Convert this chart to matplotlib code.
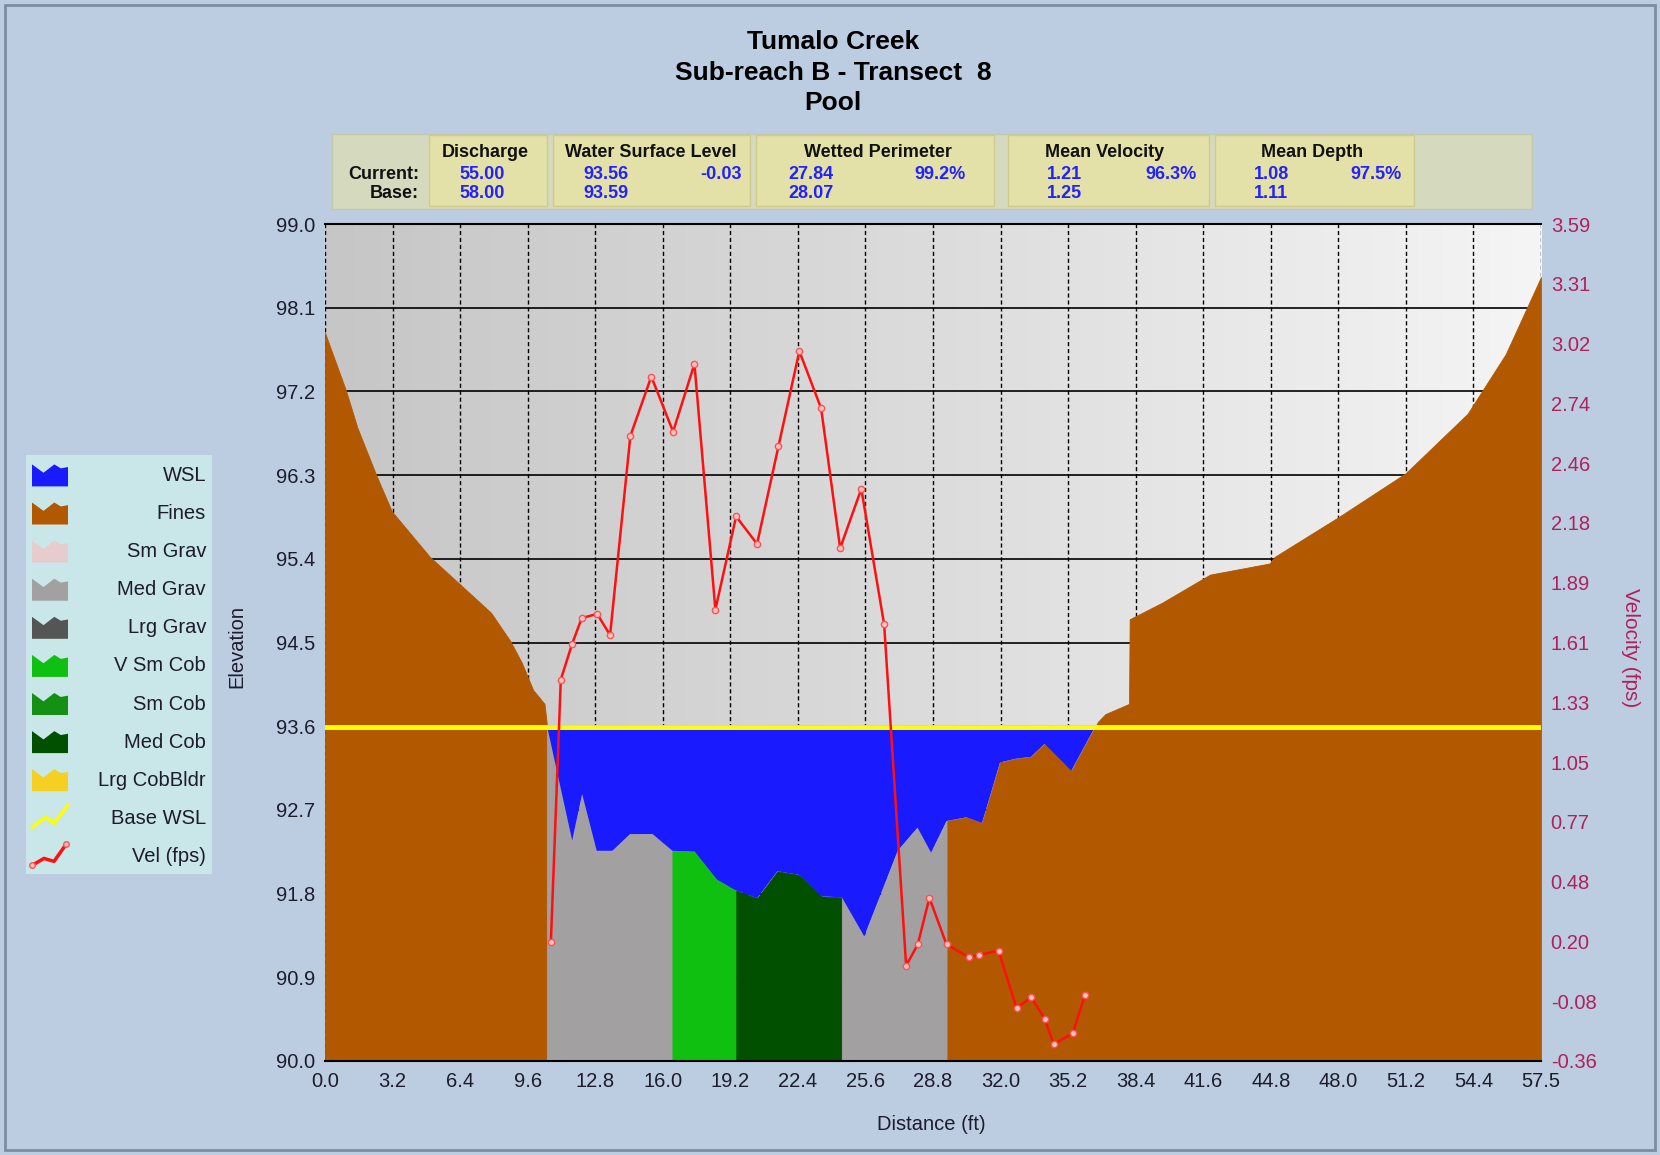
import numpy as np
import matplotlib
matplotlib.use('Agg')
import matplotlib.pyplot as plt
from matplotlib.patches import Rectangle, Polygon
from matplotlib.colors import LinearSegmentedColormap

plt.rcParams['font.family'] = ['Liberation Sans', 'DejaVu Sans']

# ---------------- data ----------------
ground_x = [0.0, 0.99, 1.53, 2.44, 3.16, 4.96, 6.41, 7.85, 8.75, 9.29, 9.84, 10.38, 10.50,
            10.55, 11.69, 12.16, 12.85, 13.59, 14.43, 15.49, 16.43, 17.49, 18.54, 19.38,
            20.44, 21.39, 22.44, 23.49, 24.44, 25.50, 27.08, 28.02, 28.66, 29.39, 30.33,
            31.07, 31.92, 32.66, 33.39, 34.03, 35.29, 36.24, 36.56, 36.90, 38.02, 38.05,
            39.60, 41.85, 44.67, 44.90, 47.94, 51.10, 54.03, 55.83, 57.50]
ground_elev = [97.83, 97.21, 96.81, 96.29, 95.91, 95.42, 95.12, 94.82, 94.52, 94.29, 93.99, 93.84, 93.60,
               93.55, 92.37, 92.87, 92.26, 92.26, 92.44, 92.44, 92.26, 92.25, 91.95, 91.84,
               91.75, 92.04, 92.00, 91.77, 91.76, 91.34, 92.26, 92.51, 92.24, 92.58, 92.62,
               92.56, 93.21, 93.25, 93.27, 93.41, 93.12, 93.52, 93.65, 93.73, 93.84, 94.75,
               94.93, 95.23, 95.35, 95.42, 95.85, 96.32, 96.96, 97.60, 98.43]

wsl_current = 93.56
wsl_base = 93.59

substrate_breaks = [0.0, 10.49, 16.43, 19.45, 24.44, 29.43, 57.5]
substrate_classes = ['Fines', 'Med Grav', 'V Sm Cob', 'Med Cob', 'Med Grav', 'Fines']

vel_x = [10.68, 11.15, 11.69, 12.14, 12.87, 13.48, 14.44, 15.43, 16.46, 17.47, 18.46,
         19.44, 20.43, 21.44, 22.43, 23.46, 24.36, 25.36, 26.44, 27.48, 28.03, 28.58,
         29.39, 30.44, 30.92, 31.85, 32.70, 33.39, 34.03, 34.45, 35.36, 35.93]
vel_fps = [0.20, 1.44, 1.61, 1.73, 1.75, 1.65, 2.59, 2.87, 2.61, 2.93, 1.77,
           2.21, 2.08, 2.54, 2.99, 2.72, 2.06, 2.34, 1.70, 0.09, 0.19, 0.41,
           0.19, 0.13, 0.14, 0.16, -0.11, -0.06, -0.16, -0.28, -0.23, -0.05]

x_tick_labels = ['0.0', '3.2', '6.4', '9.6', '12.8', '16.0', '19.2', '22.4', '25.6', '28.8',
                 '32.0', '35.2', '38.4', '41.6', '44.8', '48.0', '51.2', '54.4', '57.5']
elev_ticks = [90.0, 90.9, 91.8, 92.7, 93.6, 94.5, 95.4, 96.3, 97.2, 98.1, 99.0]
vel_tick_labels = ['-0.36', '-0.08', '0.20', '0.48', '0.77', '1.05', '1.33', '1.61',
                   '1.89', '2.18', '2.46', '2.74', '3.02', '3.31', '3.59']

legend_labels = ['WSL', 'Fines', 'Sm Grav', 'Med Grav', 'Lrg Grav', 'V Sm Cob',
                 'Sm Cob', 'Med Cob', 'Lrg CobBldr', 'Base WSL', 'Vel (fps)']
legend_colors = ['#1a1aff', '#b25800', '#e6cccc', '#a2a0a0', '#555555', '#10c010',
                 '#149014', '#005000', '#f5d020', '#ffff00', '#ff1010']

stat_names = ['Discharge', 'Water Surface Level', 'Wetted Perimeter', 'Mean Velocity', 'Mean Depth']
stat_current = ['55.00', '93.56', '27.84', '1.21', '1.08']
stat_base = ['58.00', '93.59', '28.07', '1.25', '1.11']
stat_change = ['', '-0.03', '99.2%', '96.3%', '97.5%']

title_lines = ['Tumalo Creek', 'Sub-reach B - Transect  8', 'Pool']

# ---------------- styling ----------------
W, H = 1660, 1155
fig = plt.figure(figsize=(W / 100, H / 100), dpi=100)
fig.patch.set_facecolor('#bccde2')

def fx(px):
    return px / W

def fy(py):
    return 1 - py / H

sub_color = dict(zip(legend_labels, legend_colors))
water_color = sub_color['WSL']
tick_color = '#1c1c2c'
vel_color = '#b0205a'

# frame border
fig.add_artist(Rectangle((fx(5), fy(1150)), fx(1650), 1145 / H, transform=fig.transFigure,
                         fill=False, edgecolor='#7d8ca3', lw=2))

# main axes
L, R, T, B = 325, 1541, 224, 1061
ax = fig.add_axes([fx(L), fy(B), (R - L) / W, (B - T) / H])
ax.set_xlim(0, 57.5)
ax.set_ylim(90, 99)

# background gradient
cmap_bg = LinearSegmentedColormap.from_list('bg', ['#c6c6c6', '#dcdcdc', '#f5f5f5'])
ax.imshow(np.linspace(0, 1, 256).reshape(1, -1), cmap=cmap_bg, aspect='auto',
          extent=[0, 1, 0, 1], transform=ax.transAxes, zorder=0)

# grid
ax.set_axisbelow(True)
xt = np.linspace(0, 57.5, len(x_tick_labels))
ax.set_xticks(xt)
ax.set_xticklabels(x_tick_labels)
ax.set_yticks(elev_ticks)
ax.set_yticklabels([f'{v:.1f}' for v in elev_ticks])
ax.xaxis.grid(True, color='black', lw=1.0, linestyle=(0, (3, 2)))
ax.yaxis.grid(True, color='black', lw=1.2, linestyle='-')
ax.tick_params(axis='both', length=0, labelsize=14.5, colors=tick_color)
ax.tick_params(axis='x', pad=8)
ax.tick_params(axis='y', pad=7)
for s in ['left', 'right']:
    ax.spines[s].set_visible(False)
for s in ['top', 'bottom']:
    ax.spines[s].set_color('black')
    ax.spines[s].set_linewidth(1.5)

# substrate fills
gx = np.array(ground_x)
gy = np.array(ground_elev)
for x0, x1, cls in zip(substrate_breaks[:-1], substrate_breaks[1:], substrate_classes):
    inner = gx[(gx > x0) & (gx < x1)]
    xs = np.concatenate([[x0], inner, [x1]])
    ys = np.interp(xs, gx, gy)
    c = sub_color[cls]
    ax.fill_between(xs, ys, 90, facecolor=c, edgecolor=c, lw=0.6, zorder=2)

# water
ax.fill_between(gx, gy, wsl_current, where=gy < wsl_current, interpolate=True,
                facecolor=water_color, edgecolor='none', lw=0, zorder=2.5)

# base WSL
ax.axhline(wsl_base, color='#ffff00', lw=3.5, zorder=4)

# velocity axis
ax2 = ax.twinx()
ax2.set_ylim(-0.36, 3.59)
ax2.set_yticks(np.linspace(-0.36, 3.59, len(vel_tick_labels)))
ax2.set_yticklabels(vel_tick_labels)
ax2.tick_params(axis='y', length=0, labelsize=14.5, colors=vel_color, pad=7)
for s in ax2.spines.values():
    s.set_visible(False)
ax2.plot(vel_x, vel_fps, color='#ff1010', lw=1.8, marker='o', ms=4.5,
         mfc='#ffc4c4', mec='#ff5050', mew=1.0, zorder=5)

# axis labels
fig.text(fx(237), fy(646), 'Elevation', rotation=90, ha='center', va='center',
         fontsize=14.5, color=tick_color)
fig.text(fx(1630), fy(648), 'Velocity (fps)', rotation=270, ha='center', va='center',
         fontsize=15, color=vel_color)
fig.text(fx(931), fy(1124), 'Distance (ft)', ha='center', va='center',
         fontsize=14.5, color=tick_color)

# title
for i, line in enumerate(title_lines):
    fig.text(fx(833), fy(42 + 30.7 * i), line, ha='center', va='center',
             fontsize=19, fontweight='bold', color='black')

# stats panel
fig.add_artist(Rectangle((fx(332), fy(209)), 1200 / W, 75 / H, transform=fig.transFigure,
                         facecolor='#d5dabf', edgecolor='#c4c9a8', lw=1))
cells = [(429, 547), (553, 750), (756, 994), (1008, 1209), (1215, 1414)]
head_x = [485, 651, 878, 1105, 1312]
val_x = [459, 583, 788, 1047, 1254]
chg_x = [None, 742, 966, 1197, 1402]
blue_txt = '#2222ff'
for (c0, c1), name, cur, base, chg, hx, vx, cx in zip(cells, stat_names, stat_current,
                                                        stat_base, stat_change, head_x, val_x, chg_x):
    fig.add_artist(Rectangle((fx(c0), fy(206)), (c1 - c0) / W, 71 / H, transform=fig.transFigure,
                             facecolor='#e4e1a8', edgecolor='#cfcb8e', lw=1))
    fig.text(fx(hx), fy(153), name, ha='center', va='center', fontsize=13,
             fontweight='bold', color='#111111')
    fig.text(fx(vx), fy(174), cur, ha='left', va='center', fontsize=13,
             fontweight='bold', color=blue_txt)
    fig.text(fx(vx), fy(193), base, ha='left', va='center', fontsize=13,
             fontweight='bold', color=blue_txt)
    if chg:
        fig.text(fx(cx), fy(174), chg, ha='right', va='center', fontsize=13,
                 fontweight='bold', color=blue_txt)
fig.text(fx(419), fy(174), 'Current:', ha='right', va='center', fontsize=13,
         fontweight='bold', color='#111111')
fig.text(fx(419), fy(193), 'Base:', ha='right', va='center', fontsize=13,
         fontweight='bold', color='#111111')

# legend
LX0, LY0, LX1, LY1 = 26, 455, 212, 874
lax = fig.add_axes([fx(LX0), fy(LY1), (LX1 - LX0) / W, (LY1 - LY0) / H])
lax.set_xlim(0, LX1 - LX0)
lax.set_ylim(LY1 - LY0, 0)
lax.set_facecolor('#c9e6e9')
lax.set_xticks([])
lax.set_yticks([])
for s in lax.spines.values():
    s.set_visible(False)
mountain = [(0, 0), (0, 1), (0.32, 0.62), (0.62, 1), (0.8, 0.82), (1, 0.88), (1, 0)]
for i, (lab, col) in enumerate(zip(legend_labels, legend_colors)):
    cy = 20.4 + 38.1 * i
    ix0, iw, ih = 6, 36, 22
    if lab == 'Base WSL':
        xs = [ix0, ix0 + 14, ix0 + 22, ix0 + 36]
        ys = [cy + 9, cy - 1, cy + 5, cy - 13]
        lax.plot(xs, ys, color=col, lw=2.5, solid_capstyle='round')
    elif lab == 'Vel (fps)':
        xs = [ix0, ix0 + 12, ix0 + 22, ix0 + 34]
        ys = [cy + 9, cy + 2, cy + 5, cy - 12]
        lax.plot(xs, ys, color=col, lw=2.5, marker='o', ms=4, mfc='#ffc4c4',
                 mec='#ff5050', markevery=[0, 3])
    else:
        pts = [(ix0 + u * iw, cy + ih / 2 - v * ih) for u, v in mountain]
        lax.add_patch(Polygon(pts, closed=True, facecolor=col, edgecolor='none'))
    lax.text(180, cy, lab, ha='right', va='center', fontsize=14.5, color=tick_color)

fig.savefig('out.png', dpi=100, facecolor=fig.get_facecolor())
